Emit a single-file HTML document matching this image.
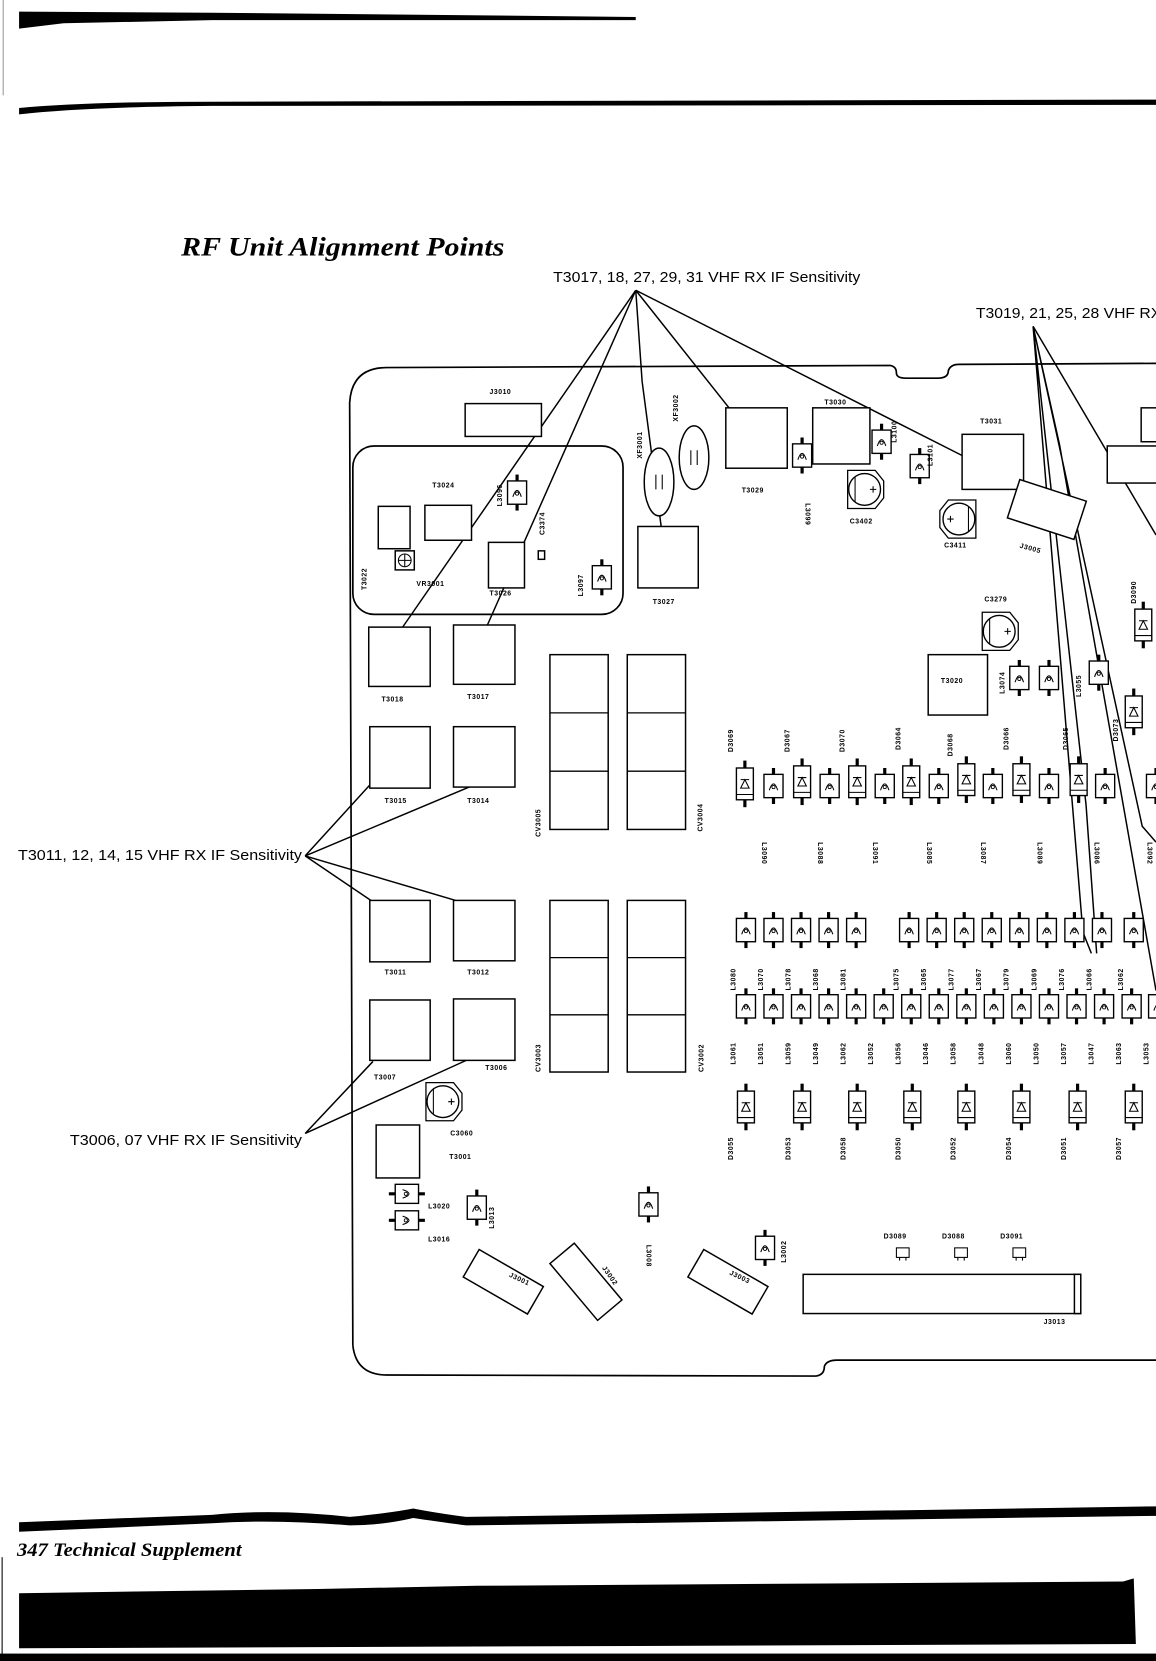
<!DOCTYPE html>
<html><head><meta charset="utf-8"><style>
html,body{margin:0;padding:0;background:#fff;}
svg{display:block;}
.s{font-family:"Liberation Sans",sans-serif;}
.t{font-family:"Liberation Sans",sans-serif;font-size:6.5px;fill:#000;font-weight:bold;letter-spacing:0.5px}
.serif{font-family:"Liberation Serif",serif;font-style:italic;font-weight:bold;}
</style></head><body>
<svg width="1156" height="1661" viewBox="0 0 1091 1568" preserveAspectRatio="none" xmlns="http://www.w3.org/2000/svg">
<defs>
<g id="L"><line x1="0" y1="-17" x2="0" y2="17" stroke="#000" stroke-width="3"/><rect x="-9" y="-11" width="18" height="22" fill="#fff" stroke="#000" stroke-width="1.3"/><path d="M-4,4 Q0,-8 4,4" fill="none" stroke="#000" stroke-width="1"/><circle cx="0" cy="1" r="1.5" fill="none" stroke="#000" stroke-width=".8"/></g>
<g id="LH"><use href="#L" transform="rotate(90)"/></g>
<g id="D"><line x1="0" y1="-22" x2="0" y2="22" stroke="#000" stroke-width="3"/><rect x="-8" y="-15" width="16" height="30" fill="#fff" stroke="#000" stroke-width="1.3"/><line x1="-8" y1="10" x2="8" y2="10" stroke="#000"/><path d="M-4,4 L4,4 L0,-4 Z M-4,-4 L4,-4" fill="none" stroke="#000" stroke-width="1"/></g>
<g id="C"><path d="M-16,-18 L10,-18 L18,-8 L18,8 L10,18 L-16,18 Z" fill="#fff" stroke="#000" stroke-width="1.2"/><circle cx="0" cy="0" r="15" fill="none" stroke="#000" stroke-width="1.3"/><line x1="-9" y1="-12" x2="-9" y2="12" stroke="#000"/><path d="M5,0 h6 M8,-3 v6" stroke="#000"/></g>
<g id="DS"><rect x="-6" y="-5" width="12" height="9" fill="#fff" stroke="#000"/><line x1="-3" y1="4" x2="-3" y2="7" stroke="#000"/><line x1="3" y1="4" x2="3" y2="7" stroke="#000"/></g>
</defs>

<!-- header -->
<path d="M18,11 L200,12 L600,16 L600,19 L200,19 L60,22 L18,27 Z" fill="#000"/>
<path d="M18,102 Q80,96 200,96 L1091,94 L1091,99 L200,100 Q80,101 18,108 Z" fill="#000"/>
<line x1="3" y1="0" x2="3" y2="90" stroke="#999" stroke-width="1"/>

<text x="171" y="241" class="serif" font-size="25" textLength="305" lengthAdjust="spacingAndGlyphs">RF Unit Alignment Points</text>
<text x="522" y="266" class="s" font-size="13.5" textLength="290" lengthAdjust="spacingAndGlyphs">T3017, 18, 27, 29, 31 VHF RX IF Sensitivity</text>
<text x="921" y="300" class="s" font-size="13.5" textLength="175" lengthAdjust="spacingAndGlyphs">T3019, 21, 25, 28 VHF RX</text>
<text x="17" y="812" class="s" font-size="13.5" textLength="268" lengthAdjust="spacingAndGlyphs">T3011, 12, 14, 15 VHF RX IF Sensitivity</text>
<text x="66" y="1081" class="s" font-size="13.5" textLength="219" lengthAdjust="spacingAndGlyphs">T3006, 07 VHF RX IF Sensitivity</text>

<!-- board outline -->
<g fill="none" stroke="#000" stroke-width="1.6">
<path d="M333,1270 L330,380 Q332,347 365,347 L840,345 Q846,346 846,352 Q846,357 855,357 L885,357 Q895,357 895,350 Q897,344 905,344 L1091,343"/>
<path d="M333,1270 Q336,1298 365,1298 L770,1299 Q778,1298 778,1290 Q780,1284 790,1284 L1091,1284"/>
<rect x="333" y="421" width="255" height="159" rx="20"/>
</g>

<!-- connector lines -->
<g stroke="#000" stroke-width="1.4" fill="none">
<path d="M600,274 L380,592 M600,274 L460,590 M600,274 L606,360 L624,497 M600,274 L688,385 M600,274 L908,430"/>
<path d="M288,808 L350,740 M288,808 L445,742 M288,808 L350,850 M288,808 L430,850"/>
<path d="M288,1070 L352,1002 M288,1070 L440,1001"/>
<path d="M975,308 L1091,505 M975,308 L1078,780 L1091,795 M975,308 L1022,880 L1030,900 M975,308 L1025,760 L1035,900 M975,308 L1000,420 L1091,935"/>
</g>

<!-- upper region -->
<g fill="#fff" stroke="#000" stroke-width="1.4">
<rect x="439" y="381" width="72" height="31"/>
<rect x="685" y="385" width="58" height="57"/>
<rect x="767" y="385" width="54" height="53"/>
<rect x="908" y="410" width="58" height="52"/>
<rect x="602" y="497" width="57" height="58"/>
<rect x="876" y="618" width="56" height="57"/>
<rect x="1077" y="385" width="20" height="32"/>
<rect x="1045" y="421" width="50" height="35"/>
<rect x="955" y="462" width="66" height="38" transform="rotate(18 988 481)"/>
<ellipse cx="622" cy="455" rx="14" ry="32"/>
<ellipse cx="655" cy="432" rx="14" ry="30"/>
<rect x="401" y="477" width="44" height="33"/>
<rect x="357" y="478" width="30" height="40"/>
<rect x="373" y="520" width="18" height="18"/>
<rect x="461" y="512" width="34" height="43"/>
<rect x="508" y="520" width="6" height="8"/>
</g>
<circle cx="382" cy="529" r="6" fill="none" stroke="#000"/>
<path d="M376,529 h12 M382,523 v12" stroke="#000"/>
<path d="M619,448 v14 M625,448 v14 M652,425 v14 M658,425 v14" stroke="#000"/>

<!-- T boxes left -->
<g fill="#fff" stroke="#000" stroke-width="1.4">
<rect x="348" y="592" width="58" height="56"/>
<rect x="428" y="590" width="58" height="56"/>
<rect x="349" y="686" width="57" height="58"/>
<rect x="428" y="686" width="58" height="57"/>
<rect x="349" y="850" width="57" height="58"/>
<rect x="428" y="850" width="58" height="57"/>
<rect x="349" y="944" width="57" height="57"/>
<rect x="428" y="943" width="58" height="58"/>
<rect x="355" y="1062" width="41" height="50"/>
<rect x="519" y="618" width="55" height="165"/>
<rect x="592" y="618" width="55" height="165"/>
<rect x="519" y="850" width="55" height="162"/>
<rect x="592" y="850" width="55" height="162"/>
<rect x="758" y="1203" width="262" height="37"/>
<rect x="1014" y="1203" width="6" height="37"/>
<rect x="440" y="1195" width="70" height="30" transform="rotate(30 475 1210)"/>
<rect x="518" y="1195" width="70" height="30" transform="rotate(50 553 1210)"/>
<rect x="652" y="1195" width="70" height="30" transform="rotate(30 687 1210)"/>
</g>
<path d="M519,673 h55 M519,728 h55 M592,673 h55 M592,728 h55 M519,904 h55 M519,958 h55 M592,904 h55 M592,958 h55" stroke="#000" stroke-width="1.2"/>

<!-- capacitors -->
<use href="#C" x="816" y="462"/>
<use href="#C" x="905" y="490" transform="rotate(180 905 490)"/>
<use href="#C" x="943" y="596"/>
<use href="#C" x="418" y="1040"/>

<!-- small inductors -->
<use href="#L" x="757" y="430"/><use href="#L" x="832" y="417"/><use href="#L" x="868" y="440"/>
<use href="#L" x="488" y="465"/><use href="#L" x="568" y="545"/>
<use href="#L" x="962" y="640"/><use href="#L" x="990" y="640"/><use href="#L" x="1037" y="635"/>
<use href="#D" x="1079" y="590"/><use href="#D" x="1070" y="672"/>
<use href="#L" x="450" y="1140"/><use href="#L" x="612" y="1137"/><use href="#L" x="722" y="1178"/>
<use href="#LH" x="384" y="1127"/><use href="#LH" x="384" y="1152"/>
<use href="#DS" x="852" y="1183"/><use href="#DS" x="907" y="1183"/><use href="#DS" x="962" y="1183"/>

<!-- row1 -->
<use href="#D" x="703" y="740"/><use href="#L" x="730" y="742"/><use href="#D" x="757" y="738"/><use href="#L" x="783" y="742"/>
<use href="#D" x="809" y="738"/><use href="#L" x="835" y="742"/><use href="#D" x="860" y="738"/><use href="#L" x="886" y="742"/>
<use href="#D" x="912" y="736"/><use href="#L" x="937" y="742"/><use href="#D" x="964" y="736"/><use href="#L" x="990" y="742"/>
<use href="#D" x="1018" y="736"/><use href="#L" x="1043" y="742"/><use href="#L" x="1091" y="742"/>
<!-- row2 -->
<use href="#L" x="704" y="878"/><use href="#L" x="730" y="878"/><use href="#L" x="756" y="878"/><use href="#L" x="782" y="878"/><use href="#L" x="808" y="878"/>
<use href="#L" x="858" y="878"/><use href="#L" x="884" y="878"/><use href="#L" x="910" y="878"/><use href="#L" x="936" y="878"/><use href="#L" x="962" y="878"/>
<use href="#L" x="988" y="878"/><use href="#L" x="1014" y="878"/><use href="#L" x="1040" y="878"/><use href="#L" x="1070" y="878"/>
<!-- row3 -->
<use href="#L" x="704" y="950"/><use href="#L" x="730" y="950"/><use href="#L" x="756" y="950"/><use href="#L" x="782" y="950"/><use href="#L" x="808" y="950"/>
<use href="#L" x="834" y="950"/><use href="#L" x="860" y="950"/><use href="#L" x="886" y="950"/><use href="#L" x="912" y="950"/><use href="#L" x="938" y="950"/>
<use href="#L" x="964" y="950"/><use href="#L" x="990" y="950"/><use href="#L" x="1016" y="950"/><use href="#L" x="1042" y="950"/><use href="#L" x="1068" y="950"/><use href="#L" x="1093" y="950"/>
<!-- row4 -->
<use href="#D" x="704" y="1045"/><use href="#D" x="757" y="1045"/><use href="#D" x="809" y="1045"/><use href="#D" x="861" y="1045"/>
<use href="#D" x="912" y="1045"/><use href="#D" x="964" y="1045"/><use href="#D" x="1017" y="1045"/><use href="#D" x="1070" y="1045"/>

<!-- board labels -->
<g class="t">
<text x="462" y="372">J3010</text><text x="778" y="382">T3030</text><text x="925" y="400">T3031</text>
<text x="700" y="465">T3029</text><text x="802" y="494">C3402</text><text x="891" y="517">C3411</text>
<text x="962" y="517" transform="rotate(15 962 517)">J3005</text><text x="929" y="568">C3279</text>
<text x="888" y="645">T3020</text><text x="616" y="570">T3027</text><text x="408" y="460">T3024</text>
<text x="393" y="553">VR3001</text><text x="462" y="562">T3026</text>
<text x="360" y="662">T3018</text><text x="441" y="660">T3017</text><text x="363" y="758">T3015</text><text x="441" y="758">T3014</text>
<text x="363" y="920">T3011</text><text x="441" y="920">T3012</text><text x="353" y="1019">T3007</text><text x="458" y="1010">T3006</text>
<text x="425" y="1072">C3060</text><text x="424" y="1094">T3001</text><text x="404" y="1141">L3020</text><text x="404" y="1172">L3016</text>
<text x="834" y="1169">D3089</text><text x="889" y="1169">D3088</text><text x="944" y="1169">D3091</text>
<text x="985" y="1250">J3013</text>
<text x="480" y="1205" transform="rotate(25 480 1205)">J3001</text>
<text x="568" y="1197" transform="rotate(55 568 1197)">J3002</text>
<text x="688" y="1203" transform="rotate(25 688 1203)">J3003</text>
</g>
<g class="t">
<text transform="translate(606,433) rotate(-90)">XF3001</text>
<text transform="translate(640,398) rotate(-90)">XF3002</text>
<text transform="translate(346,557) rotate(-90)">T3022</text>
<text transform="translate(474,478) rotate(-90)">L3096</text>
<text transform="translate(514,505) rotate(-90)">C3374</text>
<text transform="translate(550,563) rotate(-90)">L3097</text>
<text transform="translate(760,475) rotate(90)">L3099</text>
<text transform="translate(846,418) rotate(-90)">L3100</text>
<text transform="translate(880,440) rotate(-90)">L3101</text>
<text transform="translate(948,655) rotate(-90)">L3074</text>
<text transform="translate(1020,658) rotate(-90)">L3055</text>
<text transform="translate(1055,700) rotate(-90)">D3073</text>
<text transform="translate(1072,570) rotate(-90)">D3090</text>
<text transform="translate(510,790) rotate(-90)">CV3005</text>
<text transform="translate(663,785) rotate(-90)">CV3004</text>
<text transform="translate(510,1012) rotate(-90)">CV3003</text>
<text transform="translate(664,1012) rotate(-90)">CV3002</text>
<text transform="translate(466,1160) rotate(-90)">L3013</text>
<text transform="translate(610,1175) rotate(90)">L3008</text>
<text transform="translate(742,1192) rotate(-90)">L3002</text>
</g>
<g class="t">
<text transform="translate(692,710) rotate(-90)">D3069</text>
<text transform="translate(745,710) rotate(-90)">D3067</text>
<text transform="translate(797,710) rotate(-90)">D3070</text>
<text transform="translate(850,708) rotate(-90)">D3064</text>
<text transform="translate(899,714) rotate(-90)">D3068</text>
<text transform="translate(952,708) rotate(-90)">D3066</text>
<text transform="translate(1008,708) rotate(-90)">D3065</text>
<text transform="translate(719,795) rotate(90)">L3090</text>
<text transform="translate(772,795) rotate(90)">L3088</text>
<text transform="translate(824,795) rotate(90)">L3091</text>
<text transform="translate(875,795) rotate(90)">L3085</text>
<text transform="translate(926,795) rotate(90)">L3087</text>
<text transform="translate(979,795) rotate(90)">L3089</text>
<text transform="translate(1033,795) rotate(90)">L3086</text>
<text transform="translate(1083,795) rotate(90)">L3092</text>
</g>
<g class="t">
<text transform="translate(694,935) rotate(-90)">L3080</text>
<text transform="translate(720,935) rotate(-90)">L3070</text>
<text transform="translate(746,935) rotate(-90)">L3078</text>
<text transform="translate(772,935) rotate(-90)">L3068</text>
<text transform="translate(798,935) rotate(-90)">L3081</text>
<text transform="translate(848,935) rotate(-90)">L3075</text>
<text transform="translate(874,935) rotate(-90)">L3065</text>
<text transform="translate(900,935) rotate(-90)">L3077</text>
<text transform="translate(926,935) rotate(-90)">L3067</text>
<text transform="translate(952,935) rotate(-90)">L3079</text>
<text transform="translate(978,935) rotate(-90)">L3069</text>
<text transform="translate(1004,935) rotate(-90)">L3076</text>
<text transform="translate(1030,935) rotate(-90)">L3066</text>
<text transform="translate(1060,935) rotate(-90)">L3062</text>
<text transform="translate(694,1005) rotate(-90)">L3061</text>
<text transform="translate(720,1005) rotate(-90)">L3051</text>
<text transform="translate(746,1005) rotate(-90)">L3059</text>
<text transform="translate(772,1005) rotate(-90)">L3049</text>
<text transform="translate(798,1005) rotate(-90)">L3062</text>
<text transform="translate(824,1005) rotate(-90)">L3052</text>
<text transform="translate(850,1005) rotate(-90)">L3056</text>
<text transform="translate(876,1005) rotate(-90)">L3046</text>
<text transform="translate(902,1005) rotate(-90)">L3058</text>
<text transform="translate(928,1005) rotate(-90)">L3048</text>
<text transform="translate(954,1005) rotate(-90)">L3060</text>
<text transform="translate(980,1005) rotate(-90)">L3050</text>
<text transform="translate(1006,1005) rotate(-90)">L3057</text>
<text transform="translate(1032,1005) rotate(-90)">L3047</text>
<text transform="translate(1058,1005) rotate(-90)">L3063</text>
<text transform="translate(1084,1005) rotate(-90)">L3053</text>
<text transform="translate(692,1095) rotate(-90)">D3055</text>
<text transform="translate(746,1095) rotate(-90)">D3053</text>
<text transform="translate(798,1095) rotate(-90)">D3058</text>
<text transform="translate(850,1095) rotate(-90)">D3050</text>
<text transform="translate(902,1095) rotate(-90)">D3052</text>
<text transform="translate(954,1095) rotate(-90)">D3054</text>
<text transform="translate(1006,1095) rotate(-90)">D3051</text>
<text transform="translate(1058,1095) rotate(-90)">D3057</text>
</g>

<!-- footer -->
<path d="M18,1437 L200,1430 Q260,1424 330,1432 Q370,1428 390,1424 Q410,1428 440,1432 L1091,1422 L1091,1431 L440,1440 Q410,1436 390,1433 Q360,1440 330,1440 Q260,1434 200,1438 L18,1446 Z" fill="#000"/>
<text x="16" y="1469" class="serif" font-size="18" textLength="212" lengthAdjust="spacingAndGlyphs">347 Technical Supplement</text>
<path d="M18,1504 L300,1500 L450,1497 L1060,1493 L1070,1490 L1072,1552 L18,1556 Z" fill="#000"/>
<rect x="0" y="1561" width="1091" height="7" fill="#000"/>
<line x1="2" y1="1470" x2="2" y2="1568" stroke="#000" stroke-width="1"/>
</svg>
</body></html>
